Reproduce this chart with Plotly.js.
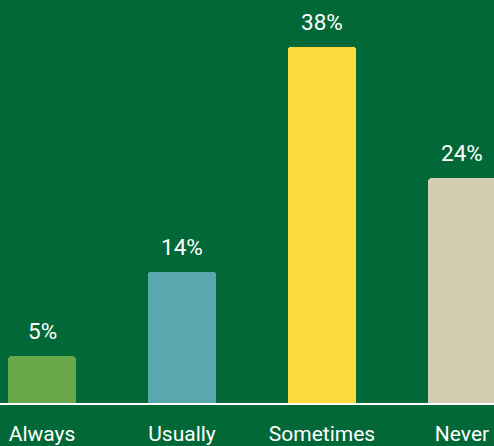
<!DOCTYPE html>
<html>
<head>
<meta charset="utf-8">
<script src="https://cdn.plot.ly/plotly-3.0.1.min.js"></script>
<style>html,body{margin:0;padding:0;background:#036837;}#chart{width:494px;height:446px;}</style>
</head>
<body>
<div id="chart"></div>
<script>
const categories = ["Always", "Usually", "Sometimes", "Never"];
const values = [5, 14, 38, 24];
const labels = ["5%", "14%", "38%", "24%"];
const colors = ["#69a84a", "#5aa8ad", "#fddb3e", "#d3cdb1"];

const xIdx = categories.map((_, i) => i);

const trace = {
  type: "bar",
  x: xIdx,
  y: values,
  width: 0.4857,
  marker: { color: colors, cornerradius: 4, line: { width: 0 } },
  hoverinfo: "none"
};

const annotations = values.map((v, i) => ({
  x: i, y: v, xref: "x", yref: "y",
  text: labels[i], showarrow: false,
  yanchor: "bottom", yshift: 10,
  font: { family: "Roboto", size: 22.5, color: "#ffffff" }
}));

const layout = {
  width: 494, height: 446,
  margin: { l: 0, r: 0, t: 0, b: 43, pad: 0 },
  paper_bgcolor: "#036837",
  plot_bgcolor: "#036837",
  showlegend: false,
  bargap: 0,
  xaxis: {
    range: [-0.3, 3.22857],
    tickmode: "array",
    tickvals: xIdx,
    ticktext: categories,
    showgrid: false, zeroline: false,
    showline: true, linecolor: "#ffffff", linewidth: 2,
    ticks: "outside", ticklen: 11, tickcolor: "rgba(0,0,0,0)",
    tickfont: { family: "Roboto", size: 21, color: "#ffffff" },
    fixedrange: true
  },
  yaxis: {
    range: [0, 42.96],
    showgrid: false, zeroline: false, showline: false,
    showticklabels: false, ticks: "",
    fixedrange: true
  },
  annotations: annotations
};

Plotly.newPlot("chart", [trace], layout, { displayModeBar: false, staticPlot: true });
</script>
</body>
</html>
